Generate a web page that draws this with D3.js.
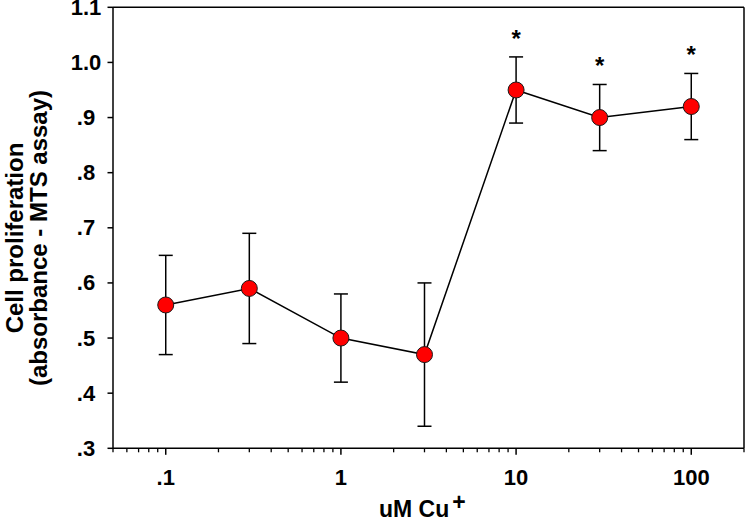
<!DOCTYPE html>
<html>
<head>
<meta charset="utf-8">
<script src="https://cdn.jsdelivr.net/npm/d3@7"></script>
<style>
  html, body { margin: 0; padding: 0; background: #fff; }
  svg { display: block; }
  text { font-family: "Liberation Sans", Arial, sans-serif; font-weight: bold; fill: #000; }
</style>
</head>
<body>
<svg id="chart" width="745" height="521"></svg>
<script>
// ---- data ----
const concentrations = [0.1, 0.3, 1, 3, 10, 30, 100];
const meanValues = [0.56, 0.59, 0.50, 0.47, 0.95, 0.90, 0.92];
const errorValues = [0.09, 0.10, 0.08, 0.13, 0.06, 0.06, 0.06];
const significant = [false, false, false, false, true, true, true];
const xMajorTicks = [0.1, 1, 10, 100];
const xMajorLabels = [".1", "1", "10", "100"];
const yTicks = [0.3, 0.4, 0.5, 0.6, 0.7, 0.8, 0.9, 1.0, 1.1];
const yTickLabels = [".3", ".4", ".5", ".6", ".7", ".8", ".9", "1.0", "1.1"];
const xTitle = "uM Cu";
const xTitleSup = "+";
const yTitleLines = ["Cell proliferation", "(absorbance - MTS assay)"];

// ---- layout ----
const svg = d3.select("#chart");
const x = d3.scaleLog().domain([0.05, 200]).range([113, 744]);
const y = d3.scaleLinear().domain([0.3, 1.1]).range([448.3, 7.3]);

// minor ticks for log axis
const minorTicks = [];
[0.01, 0.1, 1, 10, 100].forEach(d => {
  for (let k = 1; k <= 9; k++) {
    const v = +(d * k).toPrecision(6);
    if (v >= 0.05 && v <= 200 && !xMajorTicks.includes(v)) minorTicks.push(v);
  }
});

// frame (top & right)
svg.append("line").attr("x1", x(0.05)).attr("x2", x(200)).attr("y1", y(1.1)).attr("y2", y(1.1))
  .attr("stroke", "#000").attr("stroke-width", 1.5);
svg.append("line").attr("x1", x(200)).attr("x2", x(200)).attr("y1", y(1.1)).attr("y2", y(0.3))
  .attr("stroke", "#000").attr("stroke-width", 1.5);

// x axis
const gx = svg.append("g").attr("transform", `translate(0,${y(0.3)})`);
gx.append("line").attr("x1", x(0.05)).attr("x2", x(200)).attr("stroke", "#000").attr("stroke-width", 1.5);
gx.selectAll("line.minor").data(minorTicks).join("line").attr("class", "minor")
  .attr("x1", d => x(d)).attr("x2", d => x(d)).attr("y1", 0).attr("y2", 4)
  .attr("stroke", "#000").attr("stroke-width", 1.3);
gx.selectAll("line.major").data(xMajorTicks).join("line").attr("class", "major")
  .attr("x1", d => x(d)).attr("x2", d => x(d)).attr("y1", 0).attr("y2", 6.5)
  .attr("stroke", "#000").attr("stroke-width", 1.5);
gx.selectAll("text").data(xMajorTicks).join("text")
  .attr("x", d => x(d)).attr("y", 36.5).attr("text-anchor", "middle")
  .attr("font-size", 22).text((d, i) => xMajorLabels[i]);

// y axis
const gy = svg.append("g").attr("transform", `translate(${x(0.05)},0)`);
gy.append("line").attr("y1", y(0.3)).attr("y2", y(1.1)).attr("stroke", "#000").attr("stroke-width", 1.5);
gy.selectAll("line.tick").data(yTicks).join("line").attr("class", "tick")
  .attr("x1", 0).attr("x2", -5.5).attr("y1", d => y(d)).attr("y2", d => y(d))
  .attr("stroke", "#000").attr("stroke-width", 1.5);
gy.selectAll("text").data(yTicks).join("text")
  .attr("x", -27).attr("y", d => y(d) + 7.5).attr("text-anchor", "middle")
  .attr("font-size", 22).text((d, i) => yTickLabels[i]);

// axis titles
const xt = svg.append("text").attr("x", 379).attr("y", 517).attr("font-size", 23);
xt.append("tspan").text(xTitle);
xt.append("tspan").attr("dy", -7.5).attr("dx", 3).text(xTitleSup);

const yt = svg.append("text").attr("transform", "translate(0,238) rotate(-90)")
  .attr("text-anchor", "middle").attr("font-size", 24);
yTitleLines.forEach((t, i) => {
  yt.append("tspan").attr("x", 0).attr("y", 23 + i * 24).text(t);
});

// data
const pts = concentrations.map((c, i) => ({ c, m: meanValues[i], e: errorValues[i], s: significant[i] }));

// error bars
const eb = svg.append("g").attr("stroke", "#000").attr("stroke-width", 1.5);
pts.forEach(p => {
  eb.append("line").attr("x1", x(p.c)).attr("x2", x(p.c)).attr("y1", y(p.m + p.e)).attr("y2", y(p.m - p.e));
  [p.m + p.e, p.m - p.e].forEach(v => {
    eb.append("line").attr("x1", x(p.c) - 7).attr("x2", x(p.c) + 7).attr("y1", y(v)).attr("y2", y(v));
  });
});

// line
svg.append("path").datum(pts)
  .attr("d", d3.line().x(d => x(d.c)).y(d => y(d.m)))
  .attr("fill", "none").attr("stroke", "#000").attr("stroke-width", 1.5);

// markers
svg.selectAll("circle.pt").data(pts).join("circle").attr("class", "pt")
  .attr("cx", d => x(d.c)).attr("cy", d => y(d.m)).attr("r", 8)
  .attr("fill", "#ff0000").attr("stroke", "#1a1a1a").attr("stroke-width", 1);

// significance stars
svg.selectAll("text.star").data(pts.filter(d => d.s)).join("text").attr("class", "star")
  .attr("x", d => x(d.c)).attr("y", d => y(d.m + d.e) - 10)
  .attr("text-anchor", "middle").attr("font-size", 24).text("*");
</script>
</body>
</html>
